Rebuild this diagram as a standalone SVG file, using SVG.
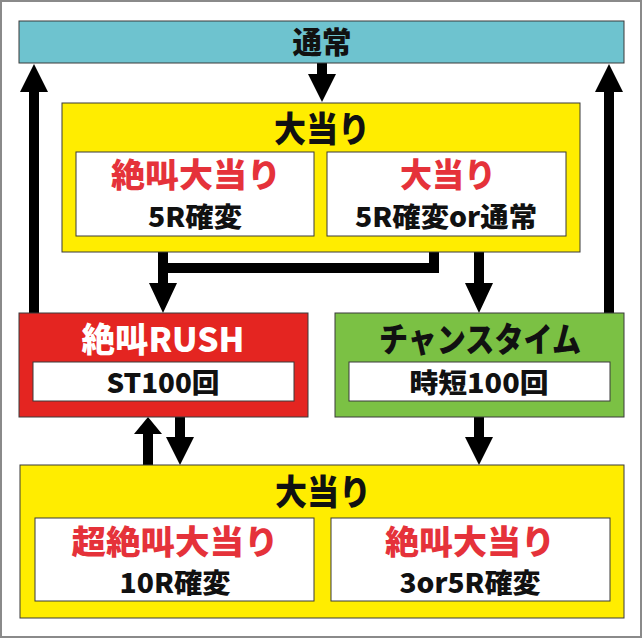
<svg xmlns="http://www.w3.org/2000/svg" width="642" height="639" viewBox="0 0 642 639">
<defs>
<style>
.t{font-family:"Noto Sans CJK JP","Noto Sans",sans-serif;font-weight:900;text-anchor:middle}
.red{fill:#E5323A}
.blk{fill:#111}
.wht{fill:#fff}
.box{stroke:#3a3a3a;stroke-width:1}
.inner{fill:#fff;stroke:#3a3a3a;stroke-width:1}
.shaft{fill:none;stroke:#000;stroke-width:10}
.head{fill:#000}
</style>
</defs>
<rect x="1" y="1" width="640" height="636" fill="#fff" stroke="#8a8a8a" stroke-width="2"/>

<g id="connectors">
  <line class="shaft" x1="322" y1="63" x2="322" y2="76"/>
  <polygon class="head" points="308,74 336,74 322,102"/>
  <line class="shaft" x1="34" y1="313" x2="34" y2="90"/>
  <polygon class="head" points="20,92 48,92 34,64"/>
  <line class="shaft" x1="609" y1="313" x2="609" y2="90"/>
  <polygon class="head" points="595,92 623,92 609,64"/>
  <polyline class="shaft" points="434,236 434,268 163,268"/>
  <line class="shaft" x1="163" y1="236" x2="163" y2="285"/>
  <polygon class="head" points="149,283 177,283 163,313"/>
  <line class="shaft" x1="479" y1="236" x2="479" y2="285"/>
  <polygon class="head" points="465,283 493,283 479,313"/>
  <line class="shaft" x1="148" y1="465" x2="148" y2="431"/>
  <polygon class="head" points="134,434 162,434 148,417"/>
  <line class="shaft" x1="180" y1="417" x2="180" y2="440"/>
  <polygon class="head" points="166,437 194,437 180,465"/>
  <line class="shaft" x1="479" y1="417" x2="479" y2="440"/>
  <polygon class="head" points="465,437 493,437 479,465"/>
</g>

<g id="normal">
  <rect class="box" x="19" y="21" width="605" height="42" fill="#6EC3CF"/>
  <text class="t blk" x="322" y="53" font-size="30" textLength="59" lengthAdjust="spacingAndGlyphs">通常</text>
</g>

<g id="jackpot-top">
  <rect class="box" x="62" y="103" width="518" height="149" fill="#FFED00"/>
  <text class="t blk" x="322" y="142" font-size="35" textLength="96" lengthAdjust="spacingAndGlyphs">大当り</text>
  <g id="jackpot-top-left">
    <rect class="inner" x="76" y="152" width="238" height="84"/>
    <text class="t red" x="196" y="187" font-size="33" textLength="170" lengthAdjust="spacingAndGlyphs">絶叫大当り</text>
    <text class="t blk" x="195" y="227" font-size="27" textLength="94" lengthAdjust="spacingAndGlyphs">5R確変</text>
  </g>
  <g id="jackpot-top-right">
    <rect class="inner" x="327" y="152" width="239" height="84"/>
    <text class="t red" x="448" y="187" font-size="33" textLength="96" lengthAdjust="spacingAndGlyphs">大当り</text>
    <text class="t blk" x="446" y="227" font-size="27" textLength="182" lengthAdjust="spacingAndGlyphs">5R確変or通常</text>
  </g>
</g>

<g id="rush">
  <rect class="box" x="19" y="313" width="289" height="104" fill="#E42521"/>
  <text class="t wht" x="163" y="352" font-size="34" textLength="163" lengthAdjust="spacingAndGlyphs">絶叫RUSH</text>
  <rect class="inner" x="33" y="362" width="261" height="39"/>
  <text class="t blk" x="163" y="393" font-size="27" textLength="113" lengthAdjust="spacingAndGlyphs">ST100回</text>
</g>

<g id="chance">
  <rect class="box" x="335" y="313" width="289" height="104" fill="#7BC144"/>
  <text class="t blk" x="480" y="352" font-size="34" textLength="202" lengthAdjust="spacingAndGlyphs">チャンスタイム</text>
  <rect class="inner" x="349" y="362" width="261" height="39"/>
  <text class="t blk" x="479" y="393" font-size="27" textLength="139" lengthAdjust="spacingAndGlyphs">時短100回</text>
</g>

<g id="jackpot-bottom">
  <rect class="box" x="20" y="465" width="604" height="153" fill="#FFED00"/>
  <text class="t blk" x="323" y="505" font-size="35" textLength="96" lengthAdjust="spacingAndGlyphs">大当り</text>
  <g id="jackpot-bottom-left">
    <rect class="inner" x="35" y="518" width="279" height="83"/>
    <text class="t red" x="175" y="554" font-size="33" textLength="207" lengthAdjust="spacingAndGlyphs">超絶叫大当り</text>
    <text class="t blk" x="175" y="593" font-size="27" textLength="111" lengthAdjust="spacingAndGlyphs">10R確変</text>
  </g>
  <g id="jackpot-bottom-right">
    <rect class="inner" x="331" y="518" width="279" height="83"/>
    <text class="t red" x="470" y="554" font-size="33" textLength="170" lengthAdjust="spacingAndGlyphs">絶叫大当り</text>
    <text class="t blk" x="470" y="593" font-size="27" textLength="141" lengthAdjust="spacingAndGlyphs">3or5R確変</text>
  </g>
</g>
</svg>
